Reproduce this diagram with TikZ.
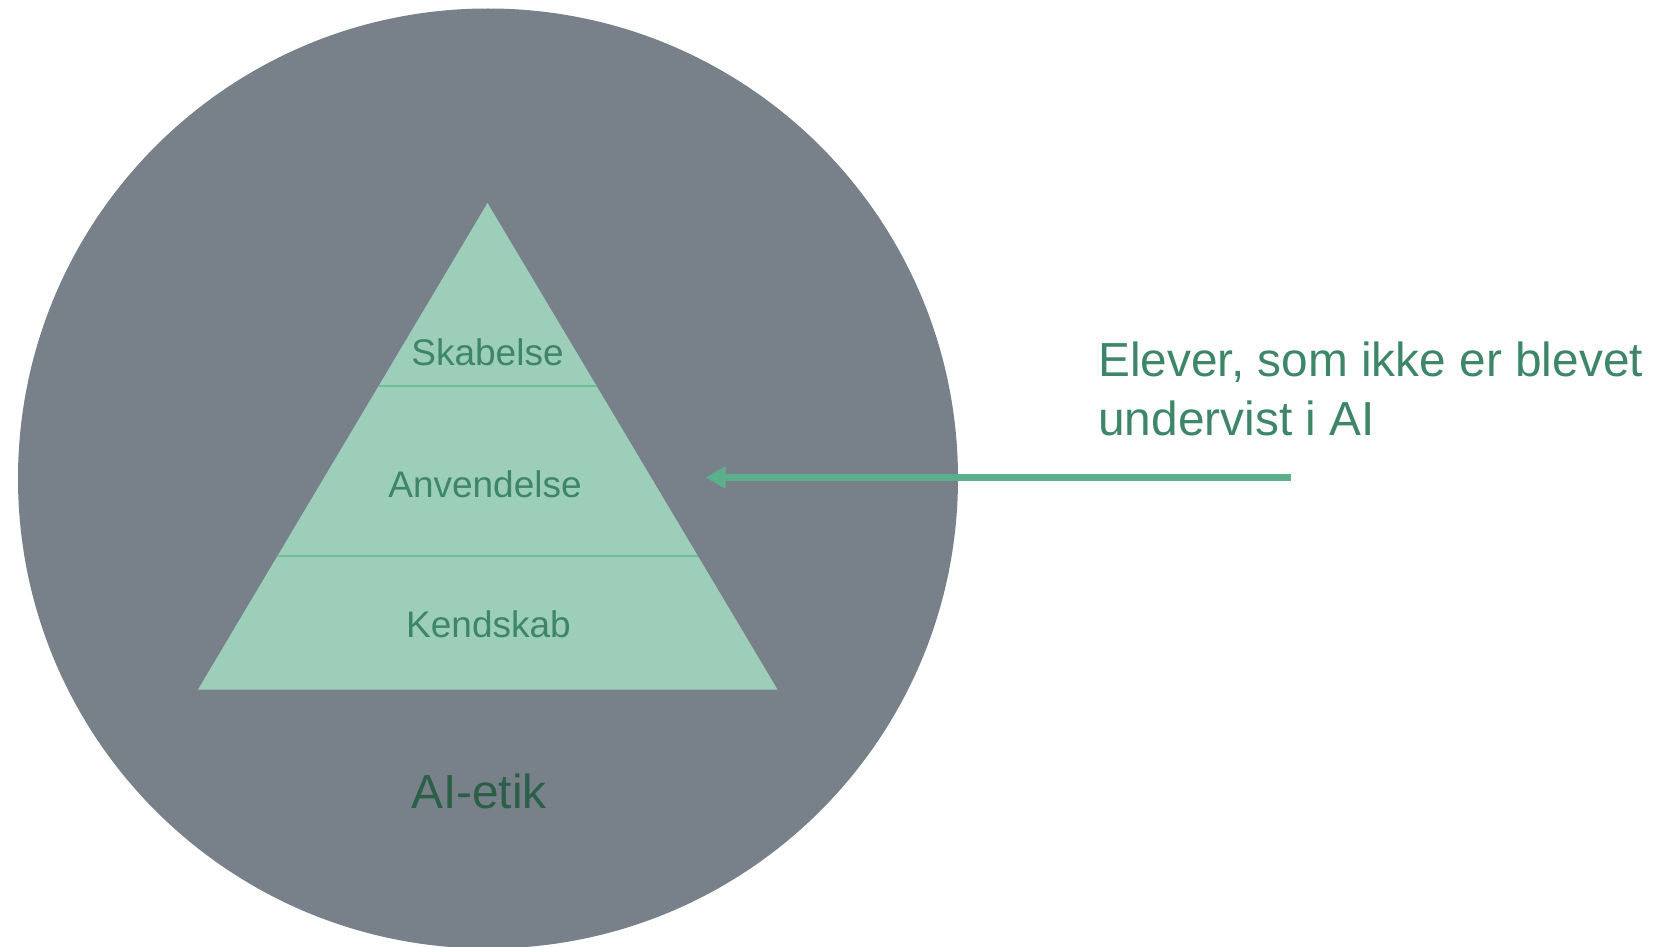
\documentclass[tikz,border=0pt]{standalone}
\usepackage{fontspec}
\setmainfont{Liberation Sans}
\usetikzlibrary{arrows.meta, calc}
\definecolor{etikgray}{HTML}{78808A}
\definecolor{pyrfill}{HTML}{9DCEB9}
\definecolor{pyrline}{HTML}{6DBE98}
\definecolor{lbltext}{HTML}{3E8668}
\definecolor{etiktext}{HTML}{2B5F47}
\definecolor{arrowgreen}{HTML}{5BAF8A}

\begin{document}
\begin{tikzpicture}[
        x=0.5pt, y=-0.5pt,
        level/.style={
            font=\fontsize{18.5}{22}\selectfont,
            text=lbltext, inner sep=0pt, anchor=base,
          },
        bigtext/.style={
            font=\fontsize{23.9}{29.5}\selectfont,
            text=#1, inner sep=0pt,
          },
        bigtext/.default=lbltext
        ]
        \useasboundingbox (0, 0) rectangle (1672, 947);
        \fill[etikgray] (488, 478.5) circle [radius=235pt];
        \coordinate (apex) at (487.5, 203);
        \coordinate (bl) at (198, 689.5);
        \coordinate (br) at (777.5, 689.5);
        \fill[pyrfill] (apex) -- (bl) -- (br) -- cycle;
        \draw[pyrline, line width=0.8pt]
            ($(apex)!0.3762!(bl)$) -- ($(apex)!0.3762!(br)$)
            ($(apex)!0.7256!(bl)$) -- ($(apex)!0.7256!(br)$);
        \node[level] (skab) at (487.5, 365) {Skabelse};
        \node[level] (anv) at (485, 497) {Anvendelse};
        \node[level] (kend) at (488.5, 637) {Kendskab};
        \node[bigtext=etiktext, anchor=base] (etik) at (479, 808) {AI-etik};
        \node[bigtext, anchor=base west] (elever1) at (1098, 376) {Elever, som ikke er blevet};
        \node[bigtext, anchor=base west] (elever2) at (1098, 435) {undervist i AI};
        \coordinate (arrowstart) at (1290.5, 477.5);
        \coordinate (arrowtip) at (705.5, 477.5);
        \draw[arrowgreen, line width=3.5pt, -{Triangle[length=10pt, width=10.5pt]}]
            (arrowstart) -- (arrowtip);
    \end{tikzpicture}
\end{document}
